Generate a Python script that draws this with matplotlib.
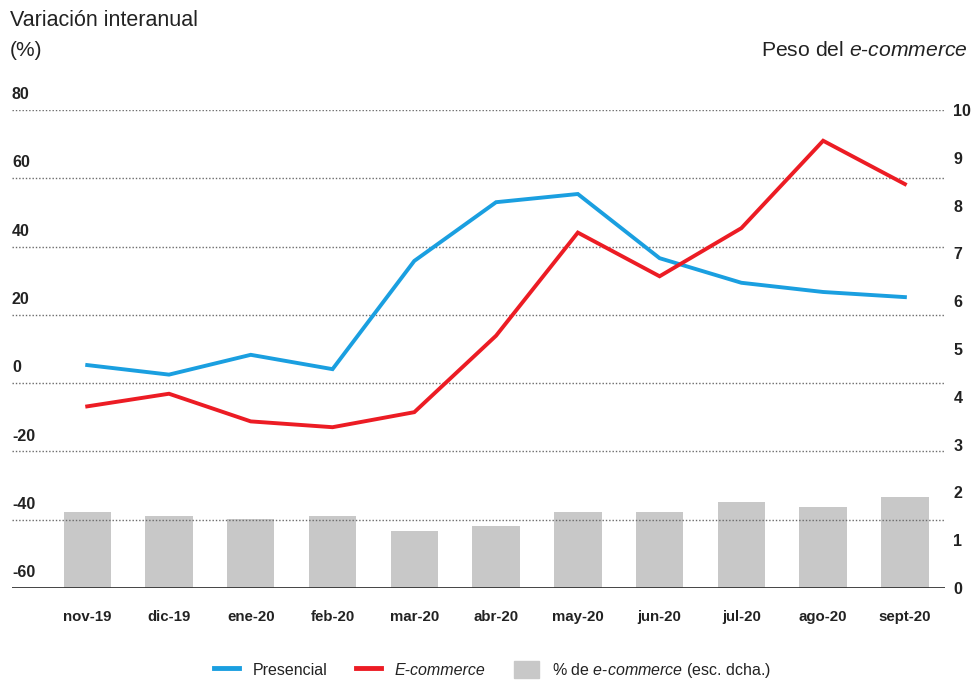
import matplotlib.pyplot as plt
import numpy as np

plt.rcParams['font.family'] = ['Liberation Sans', 'DejaVu Sans']
plt.rcParams['mathtext.fontset'] = 'custom'
plt.rcParams['mathtext.it'] = 'Liberation Sans:italic'
plt.rcParams['mathtext.rm'] = 'Liberation Sans'
plt.rcParams['mathtext.bf'] = 'Liberation Sans:bold'

months = ['nov-19', 'dic-19', 'ene-20', 'feb-20', 'mar-20', 'abr-20',
          'may-20', 'jun-20', 'jul-20', 'ago-20', 'sept-20']

# variacion interanual (%), eje izquierdo
presencial = [5.3, 2.5, 8.3, 4.1, 35.8, 53.0, 55.4, 36.6, 29.4, 26.7, 25.2]
ecommerce = [-6.8, -3.1, -11.2, -12.9, -8.5, 13.9, 44.1, 31.3, 45.4, 71.0, 58.3]

# peso del e-commerce (%), eje derecho
peso_ecom = [1.6, 1.5, 1.45, 1.5, 1.2, 1.3, 1.6, 1.6, 1.8, 1.7, 1.9]

left_ticks = [80, 60, 40, 20, 0, -20, -40, -60]
right_ticks = list(range(0, 11))

blue = '#1a9fe0'
red = '#ec1c24'
grey = '#c8c8c8'
dark = '#222222'

fig = plt.figure(figsize=(9.75, 6.82), dpi=100)
ax = fig.add_axes([0.0123, 0.1378, 0.9569, 0.7009])
ax2 = ax.twinx()

x = np.arange(len(months))

# barras al fondo, lineas y rejilla por encima
ax2.bar(x, peso_ecom, width=0.58, color=grey, zorder=1)
ax.set_zorder(ax2.get_zorder() + 1)
ax.patch.set_visible(False)

for v in left_ticks[:-1]:
    ax.axhline(v, color='#6a6a6a', lw=1.0, ls=(0, (1, 1.4)), zorder=1)
ax.axhline(-60, color='#333333', lw=2.0, zorder=3)

ax.plot(x, presencial, color=blue, lw=2.8, solid_joinstyle='miter', zorder=4,
        label='Presencial')
ax.plot(x, ecommerce, color=red, lw=2.8, solid_joinstyle='miter', zorder=5,
        label='E-commerce')

ax.set_xlim(-0.92, 10.49)
ax.set_ylim(-60, 80)
ax2.set_ylim(0, 10)

for spine in list(ax.spines.values()) + list(ax2.spines.values()):
    spine.set_visible(False)

ax.set_yticks([])
for v in left_ticks:
    ax.text(-0.92, v + 2.3, str(v), ha='left', va='bottom', fontsize=11.5,
            fontweight='bold', color=dark)

ax.set_xticks(x)
ax.set_xticklabels(months, fontsize=10.8, fontweight='bold', color=dark)
ax.tick_params(axis='x', length=0, pad=16)

ax2.set_yticks(right_ticks)
ax2.set_yticklabels([str(t) for t in right_ticks], fontsize=11.5,
                    fontweight='bold', color=dark)
ax2.tick_params(axis='y', length=0, pad=6)

fig.text(0.010, 0.970, 'Variación interanual', ha='left', va='center',
         fontsize=15.5, color=dark)
fig.text(0.010, 0.926, '(%)', ha='left', va='center', fontsize=15, color=dark)
fig.text(0.993, 0.926, r'Peso del $\mathit{e}$-$\mathit{commerce}$', ha='right',
         va='center', fontsize=15.2, color=dark)

handles = [
    plt.Line2D([], [], color=blue, lw=3.5),
    plt.Line2D([], [], color=red, lw=3.5),
    plt.Rectangle((0, 0), 1, 1, color=grey),
]
labels = ['Presencial', 'E-commerce',
          r'% de $\mathit{e}$-$\mathit{commerce}$ (esc. dcha.)']
leg = fig.legend(handles, labels, loc='center', bbox_to_anchor=(0.505, 0.017),
                 ncol=3, frameon=False, fontsize=11.5, handlelength=1.6,
                 handleheight=1.3, columnspacing=1.8, handletextpad=0.8)
for t in leg.get_texts():
    t.set_color(dark)
leg.get_texts()[1].set_style('italic')

fig.savefig('out.png', dpi=100, facecolor='white')
